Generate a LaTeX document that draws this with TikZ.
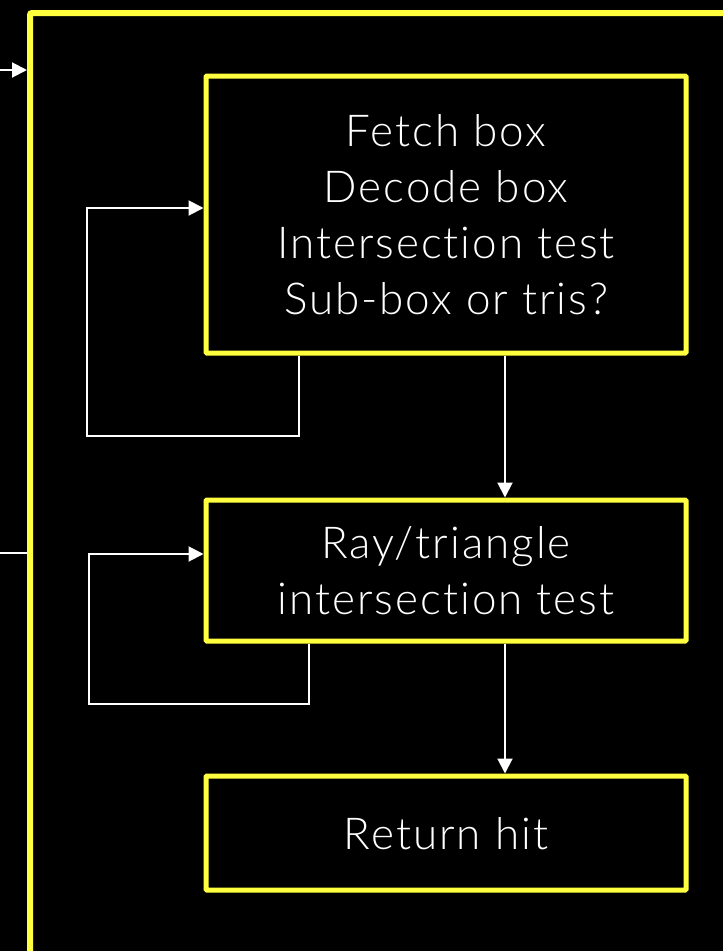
\documentclass[tikz,border=0pt]{standalone}
\usepackage{fontspec}
\setmainfont{Lato Light}[Ligatures={NoCommon,NoRare,NoDiscretionary},LetterSpace=4.5]
\usetikzlibrary{arrows.meta}
\definecolor{ylw}{RGB}{255,255,64}
\tikzset{
  box/.style={draw=ylw, line width=5pt, rounded corners=1pt, fill=black, text=white,
    align=center, font=\fontsize{44}{56}\selectfont, minimum width=480pt, inner sep=0pt},
  outerbox/.style={draw=ylw, line width=6pt, rounded corners=2pt, minimum width=715pt, minimum height=962pt, inner sep=0pt},
  wire/.style={draw=white, line width=2pt},
  arr/.style={wire, -{Triangle[length=15pt,width=15pt]}}
}
\begin{document}
\begin{tikzpicture}[x=1pt,y=-1pt]
\fill[black] (0,0) rectangle (723,951);
\useasboundingbox (0,0) rectangle (723,951);
\clip (0,0) rectangle (723,951);
\node[outerbox] (outer) at (387.5,494) {};
\node[box, minimum height=277pt] (fetch) at (446,214.5) {Fetch box\\Decode box\\Intersection test\\Sub-box or tris?};
\node[box, minimum height=141pt, text depth=-3pt] (tri) at (446,570.5) {Ray/triangle\\intersection test};
\node[box, minimum height=114pt, text depth=-4pt] (ret) at (446,833) {Return hit};
\coordinate (in1) at (0,70);
\coordinate (in2) at (0,553);
\draw[arr] (in1) -- (in1 -| outer.west);
\draw[wire] (in2) -- (in2 -| outer.west);
\draw[arr] ([xshift=59pt]fetch.south) -- ([xshift=59pt]tri.north);
\draw[arr] ([xshift=59pt]tri.south) -- ([xshift=59pt]ret.north);
\coordinate (c1) at (87,436);
\coordinate (c2) at (89,704);
\draw[arr] ([xshift=-147pt]fetch.south) |- (c1) |- ([yshift=6.5pt]fetch.west);
\draw[arr] ([xshift=-137pt]tri.south) |- (c2) |- ([yshift=16.5pt]tri.west);
\end{tikzpicture}
\end{document}
